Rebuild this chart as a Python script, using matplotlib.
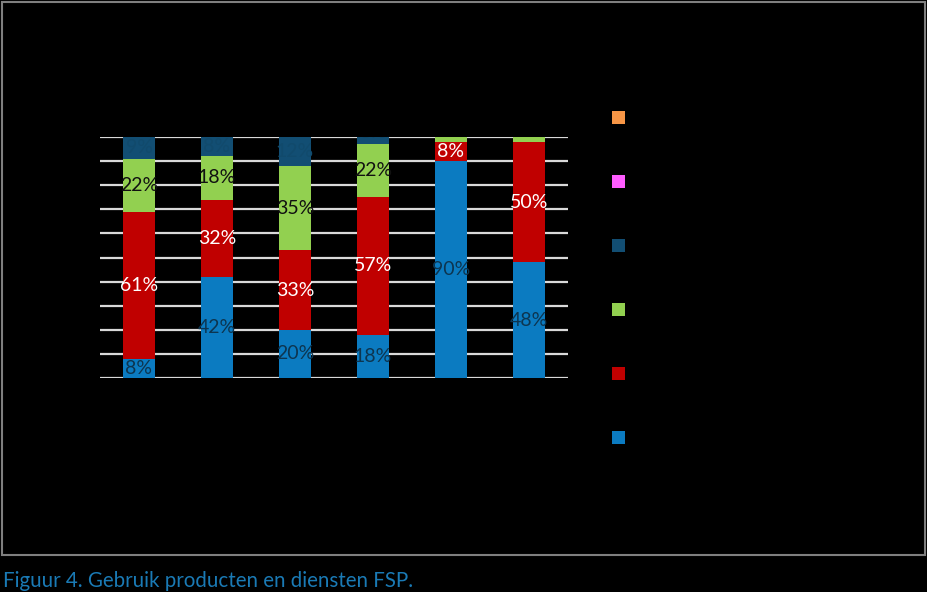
import matplotlib.pyplot as plt
from matplotlib.patches import Patch, Rectangle
import numpy as np

# stacked shares per group (percent)
groups = ['1', '2', '3', '4', '5', '6']
blue = [8, 42, 20, 18, 90, 48]
red = [61, 32, 33, 57, 8, 50]
green = [22, 18, 35, 22, 2, 2]
navy = [9, 8, 12, 3, 0, 0]
magenta = [0, 0, 0, 0, 0, 0]
orange = [0, 0, 0, 0, 0, 0]

series = [blue, red, green, navy, magenta, orange]
colors = ['#0b7bc1', '#c00000', '#92d050', '#124e73', '#ff5cff', '#f79646']
text_colors = ['#0d3550', 'white', '#111111', '#114a6c', 'black', 'black']

plt.rcParams['font.family'] = ['Lato', 'DejaVu Sans']

fig = plt.figure(figsize=(9.27, 5.92), dpi=100, facecolor='black')
ax = fig.add_axes([100 / 927, 1 - 378 / 592, 468 / 927, 241 / 592])
ax.set_facecolor('black')

x = np.arange(len(groups))
bottom = np.zeros(len(groups))
handles = []
for vals, c, tc in zip(series, colors, text_colors):
    vals = np.array(vals, dtype=float)
    ax.bar(x, vals, 0.4, bottom=bottom, color=c, zorder=3)
    for xi, b, v in zip(x, bottom, vals):
        if v <= 0:
            continue
        # tiny slices: label sits above the slice and gets clipped at the top
        va = 'bottom' if v < 5 else 'center'
        ax.text(xi, b + v / 2, '%d%%' % v, ha='center', va=va,
                color=tc, fontsize=14, zorder=4, clip_on=True)
    bottom += vals
    handles.append(Patch(facecolor=c))

ax.set_xlim(-0.5, 5.5)
ax.set_ylim(0, 100)
ax.set_yticks(range(0, 101, 10))
ax.yaxis.grid(True, color='#d9d9d9', lw=1.6, zorder=1)
ax.tick_params(left=False, bottom=False, labelleft=False, labelbottom=False)
for s in ax.spines.values():
    s.set_visible(False)

# legend (labels are not readable in the original: black on black)
fig.legend(handles[::-1], [''] * 6, loc='upper left',
           bbox_to_anchor=(599 / 927, 1 - 99 / 592), frameon=False,
           handlelength=1.0, handleheight=1.0, fontsize=10,
           labelspacing=3.67, handletextpad=0.5)

# outer frame
fig.patches.append(Rectangle((2 / 927, 1 - 555 / 592), 923 / 927, 553 / 592,
                             transform=fig.transFigure, fill=False,
                             edgecolor='#7f7f7f', lw=1.5))

fig.text(3 / 927, 1 - 581 / 592, 'Figuur 4. Gebruik producten en diensten FSP.',
         color='#1a7ab5', fontsize=14.8, va='center', ha='left')

fig.savefig('out.png', dpi=100, facecolor='black')
